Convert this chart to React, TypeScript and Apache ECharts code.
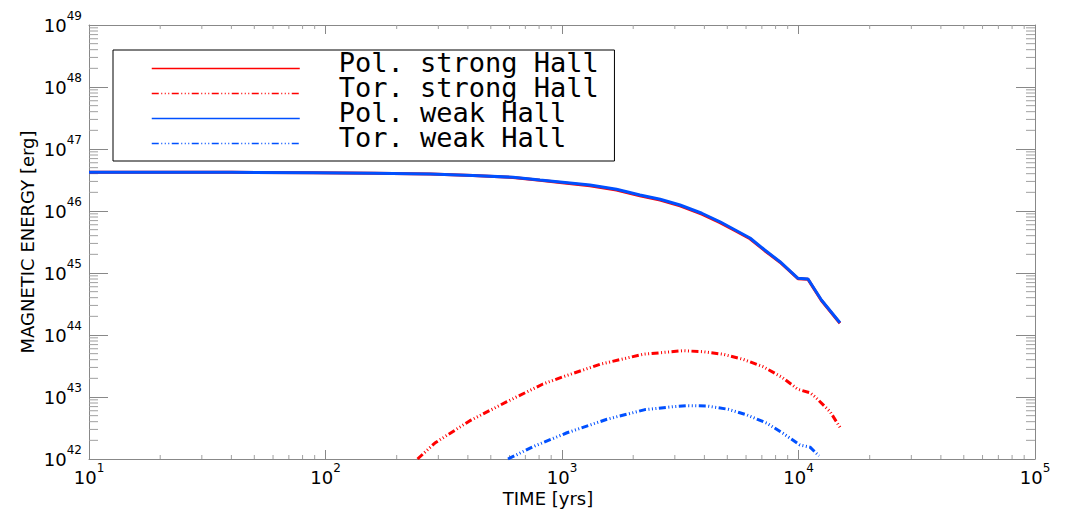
import React, { useEffect, useRef } from 'react';
import * as echarts from 'echarts';

// ---- axis ranges ----
const X_MIN = 10;
const X_MAX = 1e5;
const Y_MIN = 1e42;
const Y_MAX = 1e49;

// ---- minor tick multiples / decades ----
const MINOR_MULT = [2, 3, 4, 5, 6, 7, 8, 9];
const X_DECADES = [1e1, 1e2, 1e3, 1e4];
const Y_DECADES = [1e42, 1e43, 1e44, 1e45, 1e46, 1e47, 1e48];

// ---- series names ----
const SERIES_NAMES = ['Pol. strong Hall', 'Tor. strong Hall', 'Pol. weak Hall', 'Tor. weak Hall'];

// ---- data (time in yrs, energy in erg) ----
const POL_T = [10, 20, 40, 89, 160, 277, 420, 621, 807, 981, 1313, 1700, 2136, 2600, 3155, 3900, 4656, 5400, 6235, 7200, 8350, 9950, 10970, 12500, 14970];
const POL_WEAK_V = [4.2e46, 4.2e46, 4.2e46, 4.15e46, 4.07e46, 3.95e46, 3.75e46, 3.5e46, 3.16e46, 2.94e46, 2.62e46, 2.24e46, 1.81e46, 1.55e46, 1.25e46, 9.2e45, 6.7e45, 4.94e45, 3.67e45, 2.35e45, 1.52e45, 8.2e44, 8.0e44, 3.67e44, 1.58e44];
const POL_STRONG_V = [4.2e46, 4.2e46, 4.2e46, 4.15e46, 4.07e46, 3.94e46, 3.73e46, 3.47e46, 3.12e46, 2.89e46, 2.56e46, 2.18e46, 1.76e46, 1.5e46, 1.21e46, 8.9e45, 6.5e45, 4.8e45, 3.57e45, 2.29e45, 1.49e45, 8.1e44, 7.9e44, 3.6e44, 1.55e44];

const TOR_STRONG_T = [245, 290, 408, 585, 831, 1010, 1449, 2200, 3250, 3945, 4795, 5825, 7080, 8515, 9950, 11190, 11750, 13600, 14970];
const TOR_STRONG_V = [1.0e42, 1.81e42, 4.15e42, 8.4e42, 1.62e43, 2.12e43, 3.37e43, 4.89e43, 5.58e43, 5.38e43, 4.89e43, 4.06e43, 3.08e43, 2.08e43, 1.33e43, 1.17e43, 1.01e43, 5.8e42, 3.25e42];

const TOR_WEAK_T = [591, 754, 1050, 1549, 2244, 2946, 3378, 4105, 5035, 6055, 7360, 8595, 10140, 11190, 12220];
const TOR_WEAK_V = [1.0e42, 1.58e42, 2.65e42, 4.37e42, 6.26e42, 6.98e42, 7.25e42, 7.16e42, 6.34e42, 5.13e42, 3.77e42, 2.6e42, 1.68e42, 1.55e42, 1.12e42];

const RED = '#ff0000';
const BLUE = '#0050ff';
const AXIS_GRAY = '#888888';
const MINOR_GRAY = '#a0a0a0';
const FONT = '"DejaVu Sans", "Liberation Sans", sans-serif';
const MONO = '"DejaVu Sans Mono", "Liberation Mono", monospace';
const DASH = [7, 2.5, 1, 2.5, 1, 2.5, 1, 2.5];

const zip = (t: number[], v: number[]) => t.map((x, i) => [x, v[i]]);

const supLabel = (v: number) => `{b|10}{s|${Math.round(Math.log10(v))}}`;
const richLabel = {
  b: { fontSize: 18, fontFamily: FONT, fontWeight: 'normal', color: '#000', lineHeight: 30 },
  s: { fontSize: 12, fontFamily: FONT, fontWeight: 'normal', color: '#000', verticalAlign: 'top' },
};

export default function App() {
  const ref = useRef<HTMLDivElement>(null);

  useEffect(() => {
    document.body.style.margin = '0';
    if (!ref.current) return;
    const chart = echarts.init(ref.current, undefined, { renderer: 'svg' });

    const xMinor = X_DECADES.flatMap((d) => MINOR_MULT.map((m) => m * d));
    const yMinor = Y_DECADES.flatMap((d) => MINOR_MULT.map((m) => m * d));

    const lineSeries = (name: string, data: number[][], color: string, dashed: boolean) => ({
      name,
      type: 'line',
      data,
      symbol: 'none',
      showSymbol: false,
      clip: true,
      xAxisIndex: 0,
      yAxisIndex: 0,
      lineStyle: { color, width: 3, type: dashed ? DASH : 'solid' },
      itemStyle: { color },
      emphasis: { disabled: true },
    });

    const option: any = {
      animation: false,
      backgroundColor: '#ffffff',
      grid: { left: 89, right: 32, top: 25, bottom: 55, containLabel: false },
      xAxis: [
        {
          type: 'log',
          logBase: 10,
          min: X_MIN,
          max: X_MAX,
          splitNumber: 4,
          position: 'bottom',
          axisLine: { show: true, lineStyle: { color: AXIS_GRAY, width: 1 } },
          axisTick: { show: true, inside: true, length: 9, lineStyle: { color: AXIS_GRAY } },
          axisLabel: { show: true, formatter: supLabel, rich: richLabel, margin: 3, showMinLabel: true, showMaxLabel: true, hideOverlap: false },
          splitLine: { show: false },
        },
        {
          type: 'log',
          logBase: 10,
          min: X_MIN,
          max: X_MAX,
          splitNumber: 4,
          position: 'top',
          axisLine: { show: true, lineStyle: { color: AXIS_GRAY, width: 1 } },
          axisTick: { show: true, inside: true, length: 9, lineStyle: { color: AXIS_GRAY } },
          axisLabel: { show: false },
          splitLine: { show: false },
        },
      ],
      yAxis: [
        {
          type: 'log',
          logBase: 10,
          min: Y_MIN,
          max: Y_MAX,
          splitNumber: 7,
          position: 'left',
          axisLine: { show: true, lineStyle: { color: AXIS_GRAY, width: 1 } },
          axisTick: { show: true, inside: true, length: 19, lineStyle: { color: AXIS_GRAY } },
          axisLabel: { show: true, formatter: supLabel, rich: richLabel, margin: 7, showMinLabel: true, showMaxLabel: true, hideOverlap: false },
          splitLine: { show: false },
        },
        {
          type: 'log',
          logBase: 10,
          min: Y_MIN,
          max: Y_MAX,
          splitNumber: 7,
          position: 'right',
          axisLine: { show: true, lineStyle: { color: AXIS_GRAY, width: 1 } },
          axisTick: { show: true, inside: true, length: 19, lineStyle: { color: AXIS_GRAY } },
          axisLabel: { show: false },
          splitLine: { show: false },
        },
      ],
      legend: {
        data: SERIES_NAMES,
        orient: 'vertical',
        left: 113,
        top: 50,
        itemWidth: 148,
        itemHeight: 14,
        itemGap: -2,
        padding: [-1, 15, 10, 38],
        borderColor: '#000',
        borderWidth: 1,
        selectedMode: false,
        itemStyle: { opacity: 0, borderWidth: 0 },
        lineStyle: { width: 1.5 },
        formatter: (name: string) => `{a|${name}}{z| }`,
        textStyle: {
          fontSize: 27,
          fontFamily: MONO,
          fontWeight: 'normal',
          color: '#000',
          padding: [0, 0, 0, 34],
          rich: {
            a: { fontSize: 27, fontFamily: MONO, fontWeight: 'normal', color: '#000', verticalAlign: 'top' },
            z: { fontSize: 1, lineHeight: 39, color: 'rgba(0,0,0,0)' },
          },
        },
      },
      graphic: [
        {
          type: 'text',
          x: 27,
          y: 242,
          rotation: Math.PI / 2,
          style: { text: 'MAGNETIC ENERGY [erg]', fontSize: 18, fontFamily: FONT, fill: '#000', align: 'center', verticalAlign: 'middle' },
        },
        {
          type: 'text',
          x: 548,
          y: 498,
          style: { text: 'TIME [yrs]', fontSize: 18, fontFamily: FONT, fill: '#000', align: 'center', verticalAlign: 'middle' },
        },
      ],
      series: [
        lineSeries(SERIES_NAMES[0], zip(POL_T, POL_STRONG_V), RED, false),
        lineSeries(SERIES_NAMES[1], zip(TOR_STRONG_T, TOR_STRONG_V), RED, true),
        lineSeries(SERIES_NAMES[2], zip(POL_T, POL_WEAK_V), BLUE, false),
        lineSeries(SERIES_NAMES[3], zip(TOR_WEAK_T, TOR_WEAK_V), BLUE, true),
        {
          type: 'custom',
          name: 'xMinorTicks',
          silent: true,
          clip: false,
          xAxisIndex: 0,
          yAxisIndex: 0,
          data: xMinor.map((v) => [v, Y_MIN]),
          encode: { x: 0, y: 1 },
          renderItem: (params: any, api: any) => {
            const v = api.value(0);
            const b = api.coord([v, Y_MIN]);
            const t = api.coord([v, Y_MAX]);
            return {
              type: 'group',
              children: [
                { type: 'line', shape: { x1: b[0], y1: b[1], x2: b[0], y2: b[1] - 4 }, style: { stroke: MINOR_GRAY, lineWidth: 1 } },
                { type: 'line', shape: { x1: t[0], y1: t[1], x2: t[0], y2: t[1] + 4 }, style: { stroke: MINOR_GRAY, lineWidth: 1 } },
              ],
            };
          },
        },
        {
          type: 'custom',
          name: 'yMinorTicks',
          silent: true,
          clip: false,
          xAxisIndex: 0,
          yAxisIndex: 0,
          data: yMinor.map((v) => [X_MIN, v]),
          encode: { x: 0, y: 1 },
          renderItem: (params: any, api: any) => {
            const v = api.value(1);
            const l = api.coord([X_MIN, v]);
            const r = api.coord([X_MAX, v]);
            return {
              type: 'group',
              children: [
                { type: 'line', shape: { x1: l[0], y1: l[1], x2: l[0] + 9, y2: l[1] }, style: { stroke: MINOR_GRAY, lineWidth: 1 } },
                { type: 'line', shape: { x1: r[0], y1: r[1], x2: r[0] - 9, y2: r[1] }, style: { stroke: MINOR_GRAY, lineWidth: 1 } },
              ],
            };
          },
        },
      ],
    };

    chart.setOption(option);
    return () => chart.dispose();
  }, []);

  return <div ref={ref} style={{ width: 1067, height: 514 }} />;
}
